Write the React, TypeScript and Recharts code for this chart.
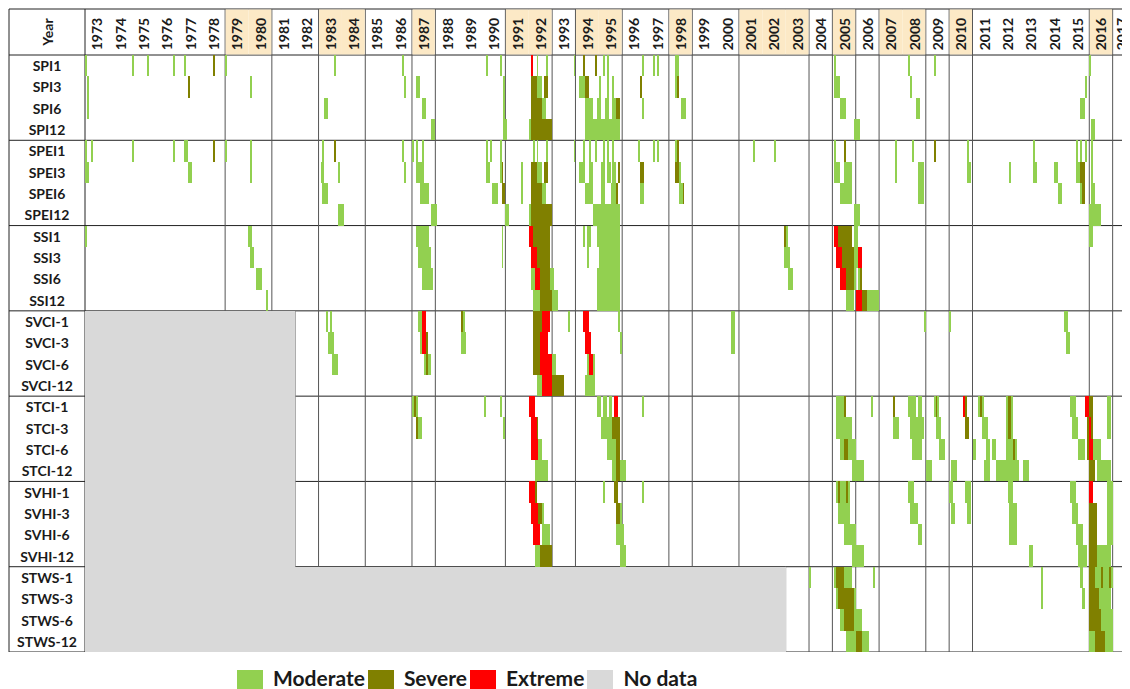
import { ScatterChart, Scatter, XAxis, YAxis, ReferenceLine } from "recharts";

// [first month counted from Jan 1973, duration in months, class: 1 moderate, 2 severe, 3 extreme]
type Run = [number, number, number];

const FIRST_YEAR = 1973;
const YEAR_COUNT = 45;
const years = Array.from({ length: YEAR_COUNT }, (_, i) => FIRST_YEAR + i);
const elNinoYears = [1979, 1980, 1983, 1984, 1987, 1991, 1992, 1994, 1995, 1998, 2001, 2002, 2003, 2005, 2007, 2008, 2010, 2016];

const levelNames = ["Moderate", "Severe", "Extreme", "No data"];
const levelColors = ["#92D050", "#808000", "#FF0000", "#D9D9D9"];

const spiLabels = ["SPI1", "SPI3", "SPI6", "SPI12"];
const speiLabels = ["SPEI1", "SPEI3", "SPEI6", "SPEI12"];
const ssiLabels = ["SSI1", "SSI3", "SSI6", "SSI12"];
const svciLabels = ["SVCI-1", "SVCI-3", "SVCI-6", "SVCI-12"];
const stciLabels = ["STCI-1", "STCI-3", "STCI-6", "STCI-12"];
const svhiLabels = ["SVHI-1", "SVHI-3", "SVHI-6", "SVHI-12"];
const stwsLabels = ["STWS-1", "STWS-3", "STWS-6", "STWS-12"];

// first year with data for each index family
const firstDataYear = [1973, 1973, 1973, 1982, 1982, 1982, 2003];

const spiRuns: Run[][] = [
  [[0, 1, 1], [24, 1, 1], [32, 1, 1], [45, 1, 1], [51, 1, 1], [66, 1, 2], [72, 1, 1], [128, 1, 1], [163, 1, 1], [206, 1, 1], [213, 1, 1], [229, 1, 3], [232, 1, 1], [237, 1, 1], [251, 1, 1], [256, 1, 2], [262, 1, 2], [266, 1, 1], [268, 1, 1], [286, 1, 1], [292, 1, 1], [294, 1, 1], [303, 2, 1], [385, 1, 1], [423, 1, 1], [436, 1, 1], [516, 1, 1]],
  [[1, 1, 1], [53, 1, 2], [85, 1, 1], [164, 1, 1], [170, 2, 1], [215, 1, 1], [229, 3, 2], [232, 3, 1], [236, 2, 2], [254, 3, 1], [257, 2, 2], [264, 1, 1], [268, 1, 1], [271, 1, 1], [285, 1, 2], [303, 1, 1], [304, 1, 2], [385, 3, 1], [424, 1, 1], [514, 1, 1]],
  [[1, 1, 1], [123, 2, 1], [173, 2, 1], [215, 1, 1], [229, 6, 2], [234, 3, 1], [257, 4, 1], [263, 2, 1], [267, 2, 1], [271, 2, 1], [273, 2, 2], [286, 1, 1], [306, 3, 1], [388, 3, 1], [427, 2, 1], [511, 3, 1]],
  [[178, 2, 1], [215, 2, 1], [228, 1, 1], [229, 11, 2], [257, 18, 1], [395, 3, 1], [517, 2, 1]],
];

const speiRuns: Run[][] = [
  [[0, 1, 1], [3, 1, 1], [24, 1, 1], [45, 1, 1], [51, 2, 1], [66, 1, 2], [72, 1, 1], [85, 1, 1], [122, 1, 1], [128, 1, 2], [163, 1, 1], [168, 1, 1], [170, 1, 1], [173, 1, 1], [206, 1, 1], [208, 1, 1], [213, 1, 1], [230, 1, 1], [232, 1, 1], [237, 1, 1], [251, 1, 1], [256, 1, 1], [259, 1, 1], [262, 1, 1], [266, 1, 1], [268, 1, 1], [271, 1, 1], [284, 1, 1], [292, 1, 1], [294, 1, 1], [303, 2, 1], [304, 1, 2], [343, 1, 1], [354, 1, 1], [385, 1, 1], [390, 1, 2], [416, 1, 1], [425, 1, 1], [436, 1, 2], [453, 1, 1], [487, 1, 1], [509, 1, 1], [511, 1, 1], [514, 1, 1], [517, 1, 1]],
  [[0, 2, 1], [53, 2, 1], [85, 1, 1], [121, 2, 1], [130, 1, 1], [164, 1, 1], [170, 4, 1], [206, 2, 1], [213, 1, 1], [214, 1, 2], [224, 1, 1], [229, 3, 2], [232, 3, 1], [236, 2, 2], [254, 3, 1], [259, 2, 1], [265, 2, 1], [268, 2, 1], [271, 2, 1], [274, 1, 2], [285, 2, 2], [303, 2, 2], [305, 1, 1], [385, 3, 1], [390, 4, 1], [416, 1, 1], [428, 3, 1], [453, 2, 1], [475, 1, 1], [487, 2, 1], [498, 2, 1], [509, 5, 1], [511, 3, 2], [517, 1, 1]],
  [[122, 3, 1], [172, 5, 1], [209, 3, 1], [214, 2, 2], [224, 1, 1], [229, 6, 2], [234, 3, 1], [257, 4, 1], [265, 2, 1], [270, 3, 1], [273, 1, 2], [285, 2, 1], [305, 3, 1], [307, 1, 2], [388, 6, 1], [428, 3, 1], [500, 2, 1], [511, 3, 1], [512, 2, 2], [517, 2, 1]],
  [[130, 3, 1], [178, 3, 1], [216, 2, 1], [228, 1, 1], [229, 11, 2], [261, 14, 1], [395, 3, 1], [516, 6, 1]],
];

const ssiRuns: Run[][] = [
  [[0, 1, 1], [84, 2, 1], [170, 7, 1], [214, 1, 1], [228, 2, 3], [230, 9, 2], [256, 1, 1], [258, 2, 1], [263, 12, 1], [359, 1, 2], [360, 1, 1], [385, 2, 3], [387, 7, 2], [395, 2, 1], [516, 2, 1]],
  [[85, 2, 1], [171, 7, 1], [214, 1, 1], [229, 3, 3], [232, 7, 2], [258, 1, 1], [264, 11, 1], [359, 3, 1], [386, 3, 3], [389, 6, 2], [395, 2, 1], [397, 2, 3]],
  [[88, 3, 1], [173, 6, 1], [229, 2, 1], [231, 3, 3], [234, 5, 2], [239, 2, 1], [263, 3, 1], [266, 9, 1], [361, 3, 1], [388, 3, 3], [391, 4, 2], [395, 1, 1], [397, 2, 1], [398, 1, 2]],
  [[93, 1, 1], [230, 4, 1], [234, 6, 2], [240, 3, 1], [263, 12, 1], [391, 4, 1], [396, 3, 3], [399, 3, 2], [402, 6, 1]],
];

const svciRuns: Run[][] = [
  [[124, 1, 1], [126, 1, 1], [171, 2, 1], [173, 2, 3], [193, 1, 2], [194, 1, 1], [230, 5, 2], [235, 4, 3], [248, 1, 1], [256, 3, 3], [274, 1, 1], [332, 2, 1], [431, 1, 1], [444, 1, 1], [503, 2, 1]],
  [[125, 3, 1], [172, 1, 1], [173, 2, 3], [175, 1, 2], [193, 3, 1], [230, 4, 2], [234, 4, 3], [257, 3, 3], [275, 1, 1], [332, 2, 1], [504, 2, 1]],
  [[127, 3, 1], [174, 4, 1], [175, 1, 2], [230, 4, 2], [234, 6, 3], [240, 2, 1], [258, 4, 1], [259, 2, 3]],
  [[232, 3, 1], [235, 5, 3], [240, 6, 2], [257, 5, 1]],
];

const stciRuns: Run[][] = [
  [[168, 3, 1], [169, 1, 2], [205, 1, 1], [213, 1, 1], [228, 3, 3], [263, 2, 1], [266, 2, 1], [269, 2, 1], [272, 2, 3], [286, 1, 1], [386, 4, 1], [390, 1, 2], [404, 1, 1], [415, 1, 2], [423, 4, 1], [428, 2, 1], [436, 3, 1], [437, 1, 2], [451, 1, 3], [452, 1, 2], [459, 3, 1], [460, 1, 2], [473, 4, 1], [474, 2, 2], [506, 3, 1], [514, 2, 3], [516, 2, 2], [525, 2, 1]],
  [[170, 3, 1], [170, 1, 2], [215, 1, 1], [229, 3, 3], [232, 1, 2], [265, 7, 1], [271, 4, 2], [386, 8, 1], [415, 3, 1], [424, 7, 1], [437, 3, 1], [452, 2, 2], [461, 3, 1], [473, 4, 1], [474, 2, 2], [507, 3, 1], [515, 3, 2], [516, 1, 3], [525, 2, 1]],
  [[229, 4, 3], [233, 2, 1], [268, 5, 1], [273, 2, 2], [388, 8, 1], [390, 2, 2], [425, 5, 1], [439, 3, 1], [456, 2, 1], [463, 2, 1], [466, 2, 1], [473, 6, 1], [477, 1, 2], [510, 4, 1], [515, 1, 2], [516, 2, 3], [518, 4, 1]],
  [[231, 7, 1], [271, 7, 1], [273, 2, 2], [394, 6, 1], [432, 3, 1], [445, 3, 1], [462, 3, 1], [468, 12, 1], [482, 3, 1], [516, 3, 2], [520, 7, 1]],
];

const svhiRuns: Run[][] = [
  [[228, 3, 3], [231, 1, 2], [266, 1, 1], [272, 2, 2], [286, 1, 1], [386, 7, 1], [387, 1, 2], [391, 1, 2], [423, 3, 1], [444, 2, 1], [452, 3, 1], [474, 3, 1], [506, 3, 1], [516, 2, 3], [525, 3, 1]],
  [[229, 4, 3], [233, 2, 2], [235, 1, 1], [273, 2, 2], [275, 1, 1], [387, 6, 1], [424, 4, 1], [445, 2, 1], [453, 2, 1], [475, 4, 1], [507, 3, 1], [516, 4, 2], [525, 3, 1]],
  [[230, 4, 3], [235, 4, 1], [273, 4, 1], [390, 6, 1], [428, 2, 1], [475, 4, 1], [509, 4, 1], [516, 4, 2], [525, 3, 1]],
  [[231, 3, 1], [234, 6, 2], [275, 3, 1], [394, 6, 1], [485, 2, 1], [510, 5, 1], [516, 4, 2], [520, 7, 1]],
];

const stwsRuns: Run[][] = [
  [[372, 1, 1], [385, 1, 1], [386, 4, 2], [390, 4, 1], [405, 1, 1], [491, 1, 1], [511, 2, 1], [516, 3, 2], [519, 9, 1], [522, 1, 2], [526, 1, 2]],
  [[386, 1, 1], [387, 8, 2], [395, 1, 1], [491, 1, 1], [512, 2, 1], [516, 5, 2], [521, 6, 1]],
  [[388, 11, 1], [390, 5, 2], [516, 6, 2], [522, 6, 1]],
  [[391, 12, 1], [396, 3, 2], [516, 12, 1], [519, 5, 2]],
];

// layout
const FONT = "Lato, 'Open Sans', sans-serif";
const CHART_W = 1130;
const VISIBLE_W = 1122;
const LABEL_W = 76;
const HEADER_H = 46;
const PLOT_W = 1051;
const PLOT_H = 597;
const CHART_H = 1 + HEADER_H + PLOT_H;
const MONTHS = YEAR_COUNT * 12;
const ROWS = 28;
const PX = PLOT_W / MONTHS;
const ROW_H = PLOT_H / ROWS;
const X_LEFT = -LABEL_W / PX;
const Y_TOP = -HEADER_H / ROW_H;

const groups = [
  { labels: spiLabels, runs: spiRuns },
  { labels: speiLabels, runs: speiRuns },
  { labels: ssiLabels, runs: ssiRuns },
  { labels: svciLabels, runs: svciRuns },
  { labels: stciLabels, runs: stciRuns },
  { labels: svhiLabels, runs: svhiRuns },
  { labels: stwsLabels, runs: stwsRuns },
];
const rowLabels = groups.flatMap((g) => g.labels);

type Cell = { x: number; y: number; len: number; rows: number };
const cells: Cell[][] = [[], [], [], []];
groups.forEach((g, gi) => {
  g.runs.forEach((runs, ri) => {
    runs.forEach(([start, len, level]) => {
      cells[level - 1].push({ x: start + len / 2, y: gi * 4 + ri + 0.5, len, rows: 1 });
    });
  });
  const gap = (firstDataYear[gi] - FIRST_YEAR) * 12;
  if (gap > 0) cells[3].push({ x: gap / 2, y: gi * 4 + 2, len: gap, rows: 4 });
});

const isNino = (y: number) => elNinoYears.includes(y);
// a separator wherever the El Nino / other shading changes
const boundaries = years.slice(1).filter((y) => isNino(y) !== isNino(y - 1)).map((y) => (y - FIRST_YEAR) * 12);
const noDataEnd = (row: number) => (firstDataYear[Math.floor(row / 4)] - FIRST_YEAR) * 12;

type Seg = { x1: number; y1: number; x2: number; y2: number; color: string };
const segs: Seg[] = [];
const dark = "#222";
const mid = "#555";
segs.push({ x1: X_LEFT, y1: Y_TOP, x2: MONTHS, y2: Y_TOP, color: dark });
segs.push({ x1: X_LEFT, y1: 0, x2: MONTHS, y2: 0, color: dark });
segs.push({ x1: X_LEFT, y1: ROWS, x2: MONTHS, y2: ROWS, color: dark });
segs.push({ x1: X_LEFT, y1: Y_TOP, x2: X_LEFT, y2: ROWS, color: dark });
segs.push({ x1: 0, y1: Y_TOP, x2: 0, y2: ROWS, color: dark });
for (let r = 4; r < ROWS; r += 4) {
  const from = r === 12 ? 0 : noDataEnd(r - 1);
  segs.push({ x1: X_LEFT, y1: r, x2: 0, y2: r, color: dark });
  segs.push({ x1: from, y1: r, x2: MONTHS, y2: r, color: dark });
}
boundaries.forEach((b) => {
  let bottom = ROWS;
  while (bottom > 0 && noDataEnd(bottom - 1) > b) bottom -= 4;
  segs.push({ x1: b, y1: Y_TOP, x2: b, y2: bottom, color: mid });
});
[12, 24].forEach((r) => {
  segs.push({ x1: noDataEnd(r), y1: r, x2: noDataEnd(r), y2: r + (r === 12 ? 12 : 4), color: "#888" });
});

const CellShape = (color: string) => (props: any) => {
  const { cx, cy, payload } = props;
  const w = payload.len * PX;
  const h = payload.rows * ROW_H;
  return <rect x={cx - w / 2} y={cy - h / 2} width={w} height={h} fill={color} shapeRendering="crispEdges" />;
};

const YearTick = (props: any) => {
  const { x, payload } = props;
  const year = FIRST_YEAR + Math.floor(payload.value / 12);
  const half = 6 * PX;
  const left = isNino(year) && !isNino(year - 1) ? 0.5 : 0;
  const right = isNino(year) && !isNino(year + 1) ? 0.5 : 0;
  const ty = 1 + HEADER_H / 2 + 2;
  // the last column runs past the page edge, keep its label readable
  const tx = Math.min(x, VISIBLE_W - 9);
  return (
    <g>
      {isNino(year) && (
        <rect x={x - half + left} y={1.5} width={2 * half - left - right} height={HEADER_H - 1} fill="#FCE9C6" />
      )}
      <text x={tx} y={ty} transform={`rotate(-90 ${tx} ${ty})`} textAnchor="middle" dominantBaseline="central"
        fontFamily={FONT} fontWeight={700} fontSize={14} fill="#1a1a1a">
        {year}
      </text>
      {payload.value === 6 && (
        <text x={x - half - LABEL_W / 2} y={ty - 2} transform={`rotate(-90 ${x - half - LABEL_W / 2} ${ty - 2})`}
          textAnchor="middle" dominantBaseline="central" fontFamily={FONT} fontWeight={700} fontSize={14} fill="#1a1a1a">
          Year
        </text>
      )}
    </g>
  );
};

const RowTick = (props: any) => {
  const { y, payload } = props;
  return (
    <text x={1 + LABEL_W / 2} y={y} textAnchor="middle" dominantBaseline="central"
      fontFamily={FONT} fontWeight={700} fontSize={14} fill="#1a1a1a">
      {rowLabels[Math.floor(payload.value)]}
    </text>
  );
};

export default function App() {
  return (
    <div style={{ position: "relative", width: VISIBLE_W, height: 681, overflow: "hidden", background: "#fff" }}>
      <style>{"html{overflow:hidden}"}</style>
      <ScatterChart width={CHART_W} height={CHART_H} margin={{ top: 1, right: 2, bottom: 0, left: 1 }}>
        <XAxis
          xAxisId={0}
          type="number"
          dataKey="x"
          orientation="top"
          height={HEADER_H}
          domain={[0, MONTHS]}
          ticks={years.map((_, i) => i * 12 + 6)}
          interval={0}
          tick={(p: any) => <YearTick {...p} />}
          tickLine={false}
          axisLine={false}
        />
        <YAxis
          yAxisId={0}
          type="number"
          dataKey="y"
          width={LABEL_W}
          domain={[0, ROWS]}
          reversed
          ticks={rowLabels.map((_, i) => i + 0.5)}
          interval={0}
          tick={(p: any) => <RowTick {...p} />}
          tickLine={false}
          axisLine={false}
        />
        {[3, 0, 1, 2].map((lvl) => (
          <Scatter
            key={levelNames[lvl]}
            name={levelNames[lvl]}
            data={cells[lvl]}
            fill={levelColors[lvl]}
            shape={CellShape(levelColors[lvl])}
            isAnimationActive={false}
          />
        ))}
        {segs.map((s, i) => (
          <ReferenceLine
            key={i}
            segment={[{ x: s.x1, y: s.y1 }, { x: s.x2, y: s.y2 }]}
            stroke={s.color}
            strokeWidth={1}
            ifOverflow="visible"
          />
        ))}
      </ScatterChart>
      <div style={{ position: "absolute", left: 229, top: 660, display: "flex", alignItems: "flex-start", fontFamily: FONT, fontWeight: 700, fontSize: 21, color: "#1a1a1a" }}>
        {levelNames.map((name, i) => (
          <div key={name} style={{ display: "flex", alignItems: "flex-start", marginRight: 3 }}>
            <span style={{ width: 26, height: 24, marginTop: 2, marginRight: 10, background: levelColors[i] }} />
            <span style={{ lineHeight: "20px" }}>{name}</span>
          </div>
        ))}
      </div>
    </div>
  );
}
